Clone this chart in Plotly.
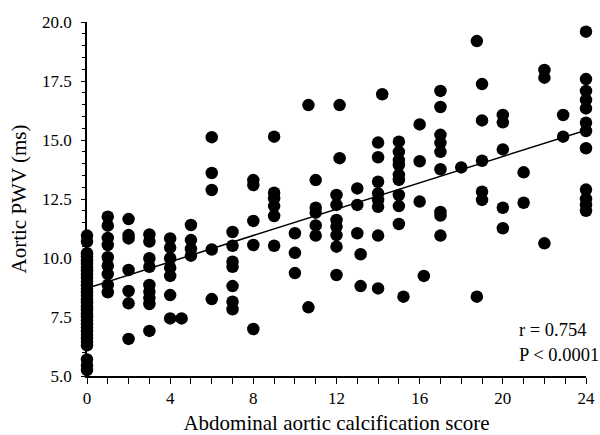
import plotly.graph_objects as go

# Abdominal aortic calcification score (x) and aortic PWV (y), read column by column
score = (
    [0] * 32
    + [1] * 9
    + [2] * 7
    + [3] * 9
    + [4] * 7
    + [4.55]
    + [5] * 4
    + [6] * 5
    + [7] * 7
    + [8] * 5
    + [9] * 6
    + [10] * 3
    + [10.65] * 2
    + [11] * 5
    + [12] * 7
    + [12.15] * 2
    + [13] * 3
    + [13.16] * 2
    + [14] * 8
    + [14.2]
    + [15] * 9
    + [15.22]
    + [16] * 3
    + [16.2]
    + [17] * 9
    + [18]
    + [18.75] * 2
    + [19] * 5
    + [20] * 5
    + [21] * 2
    + [22] * 3
    + [22.9] * 2
    + [24] * 12
)

pwv = [
    # x = 0
    10.95, 10.7, 10.2, 10.05, 9.9, 9.75, 9.6, 9.45, 9.3, 9.15, 9.0, 8.85, 8.7, 8.55,
    8.4, 8.25, 8.1, 7.95, 7.8, 7.65, 7.5, 7.35, 7.2, 7.05, 6.9, 6.75, 6.6, 6.45, 6.3,
    5.7, 5.45, 5.25,
    # x = 1
    11.75, 11.37, 10.85, 10.55, 10.03, 9.67, 9.32, 8.86, 8.55,
    # x = 2
    11.65, 10.97, 10.83, 9.49, 8.6, 8.08, 6.57,
    # x = 3
    11.0, 10.7, 9.99, 9.63, 8.86, 8.57, 8.3, 8.05, 6.91,
    # x = 4
    10.83, 10.44, 9.99, 9.59, 9.24, 8.43, 7.44,
    # x = 4.55
    7.44,
    # x = 5
    11.4, 10.76, 10.38, 10.1,
    # x = 6
    15.12, 13.6, 12.88, 10.36, 8.26,
    # x = 7
    11.1, 10.52, 9.84, 9.63, 8.81, 8.15, 7.83,
    # x = 8
    13.3, 13.09, 11.57, 10.55, 6.99,
    # x = 9
    15.14, 12.77, 12.53, 12.2, 11.78, 10.52,
    # x = 10
    11.05, 10.22, 9.36,
    # x = 10.65
    16.48, 7.91,
    # x = 11
    13.3, 12.13, 11.92, 11.38, 10.95,
    # x = 12
    12.67, 12.25, 11.61, 11.33, 10.97, 10.48, 9.28,
    # x = 12.15
    16.48, 14.23,
    # x = 13
    12.95, 12.25, 11.05,
    # x = 13.16
    10.16, 8.81,
    # x = 14
    14.89, 14.27, 13.23, 12.74, 12.46, 12.17, 10.95, 8.71,
    # x = 14.2
    16.94,
    # x = 15
    14.93, 14.5, 14.15, 13.94, 13.52, 13.31, 12.67, 12.2, 11.44,
    # x = 15.22
    8.36,
    # x = 16
    15.66, 14.1, 12.39,
    # x = 16.2
    9.24,
    # x = 17
    17.08, 16.4, 15.22, 14.88, 14.5, 13.76, 11.95, 11.8, 10.95,
    # x = 18
    13.84,
    # x = 18.75
    19.19, 8.36,
    # x = 19
    17.37, 15.83, 14.12, 12.81, 12.46,
    # x = 20
    16.06, 15.75, 14.6, 12.13, 11.26,
    # x = 21
    13.63, 12.34,
    # x = 22
    17.97, 17.64, 10.62,
    # x = 22.9
    16.06, 15.14,
    # x = 24
    19.59, 17.58, 17.08, 16.7, 16.34, 15.73, 15.38, 14.65, 12.9, 12.5, 12.25, 12.0,
]

fit_score = [0, 24]
fit_pwv = [8.72, 15.42]

x_ticks = [0, 4, 8, 12, 16, 20, 24]
y_ticks = [5, 7.5, 10, 12.5, 15, 17.5, 20]
y_tick_text = ["5.0", "7.5", "10.0", "12.5", "15.0", "17.5", "20.0"]

stats_lines = ["r = 0.754", "P < 0.0001"]

FONT = "Liberation Serif, Times New Roman, serif"

fig = go.Figure()
fig.add_trace(go.Scatter(
    x=fit_score, y=fit_pwv, mode="lines",
    line=dict(color="black", width=1.5), hoverinfo="skip", cliponaxis=False,
))
fig.add_trace(go.Scatter(
    x=score, y=pwv, mode="markers",
    marker=dict(color="black", size=12.5, line=dict(width=0)),
    cliponaxis=False,
))

fig.update_layout(
    width=600, height=435,
    margin=dict(l=87, r=14, t=22, b=59, autoexpand=False),
    plot_bgcolor="white", paper_bgcolor="white",
    showlegend=False,
    font=dict(family=FONT, color="black", size=17),
)

fig.update_xaxes(
    automargin=False,
    range=[0, 24], tickmode="array", tickvals=x_ticks,
    ticks="outside", ticklen=6, tickwidth=1.2, tickcolor="black",
    minor=dict(tickmode="linear", tick0=0, dtick=1, ticks="outside", ticklen=6,
               tickwidth=1.2, tickcolor="black"),
    showline=True, linecolor="black", linewidth=1.5,
    showgrid=False, zeroline=False,
    title=dict(text="Abdominal aortic calcification score", font=dict(size=21), standoff=12),
)
fig.update_yaxes(
    automargin=False,
    range=[5, 20], tickmode="array", tickvals=y_ticks, ticktext=y_tick_text,
    ticks="outside", ticklen=4, tickwidth=1.2, tickcolor="black",
    ticklabelstandoff=6,
    minor=dict(tickmode="linear", tick0=5, dtick=0.5, ticks="outside", ticklen=3,
               tickwidth=1.2, tickcolor="black"),
    showline=True, linecolor="black", linewidth=1.5,
    showgrid=False, zeroline=False,
    title=dict(text="Aortic PWV (ms)", font=dict(size=21), standoff=10),
)

for i, txt in enumerate(stats_lines):
    fig.add_annotation(
        x=20.7, y=[6.95, 5.9][i], xref="x", yref="y",
        text=txt, showarrow=False, xanchor="left", yanchor="middle",
        font=dict(family=FONT, size=18.5, color="black"),
    )

fig.write_html("out.html")
